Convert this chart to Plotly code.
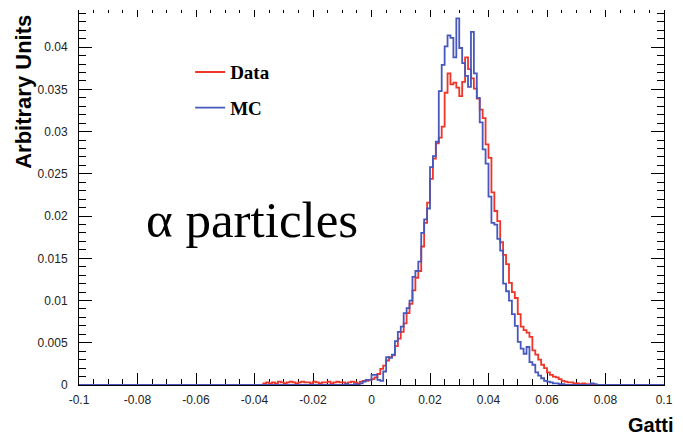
import numpy as np
import plotly.graph_objects as go

# Histogram binning (Gatti parameter)
axis_lo, axis_hi = -0.1, 0.1
bin_width = 0.001
read_lo = -0.040          # first bin with a read value
unit = 1e-3               # values below are in units of 1e-3

# Normalised bin contents from -0.040 to 0.080 (120 bins), units of 1e-3
data_vals = [
    0.0, 0.0, 0.0, 0.2, 0.3, 0.2, 0.3, 0.2, 0.4, 0.3,
    0.2, 0.3, 0.4, 0.3, 0.2, 0.3, 0.4, 0.3, 0.3, 0.2,
    0.4, 0.3, 0.2, 0.3, 0.3, 0.4, 0.2, 0.3, 0.4, 0.3,
    0.3, 0.2, 0.3, 0.4, 0.3, 0.2, 0.4, 0.5, 0.5, 0.6,
    0.7, 0.9, 1.3, 1.9, 2.3, 2.9, 3.3, 3.5, 4.6, 5.5,
    6.3, 7.3, 8.5, 9.6, 11.2, 12.7, 13.5, 16.4, 19.2, 21.6,
    24.4, 26.8, 28.6, 29.3, 30.6, 34.6, 36.9, 35.6, 35.8, 35.2,
    34.2, 35.9, 38.8, 37.4, 36.3, 35.1, 33.9, 32.6, 31.6, 28.5,
    26.9, 22.8, 20.6, 19.4, 16.9, 15.4, 14.3, 12.1, 11.0, 10.3,
    8.4, 6.9, 6.5, 6.2, 5.7, 4.1, 3.6, 3.0, 2.4, 2.0,
    1.5, 1.2, 1.0, 0.9, 0.7, 0.5, 0.4, 0.3, 0.3, 0.2,
    0.2, 0.1, 0.2, 0.1, 0.1, 0.1, 0.0, 0.0, 0.0, 0.0,
]
mc_vals = [
    0.0, 0.0, 0.0, 0.0, 0.0, 0.0, 0.0, 0.0, 0.0, 0.0,
    0.0, 0.0, 0.0, 0.0, 0.0, 0.0, 0.0, 0.0, 0.0, 0.0,
    0.0, 0.0, 0.0, 0.0, 0.0, 0.0, 0.0, 0.0, 0.0, 0.0,
    0.0, 0.1, 0.0, 0.0, 0.1, 0.0, 0.2, 0.4, 0.6, 0.6,
    1.2, 1.2, 0.6, 0.5, 1.6, 3.3, 3.2, 3.6, 5.2, 6.3,
    6.9, 8.5, 9.1, 10.0, 12.8, 13.5, 14.6, 18.0, 19.6, 20.9,
    25.8, 27.1, 28.8, 34.8, 37.9, 40.1, 41.4, 41.1, 38.8, 43.4,
    39.9, 38.1, 36.6, 35.3, 41.8, 36.9, 34.0, 31.1, 27.9, 26.2,
    22.3, 19.2, 19.0, 17.3, 15.9, 12.0, 11.1, 10.0, 8.4, 7.0,
    5.1, 4.3, 3.7, 4.5, 2.7, 2.4, 1.5, 1.1, 0.8, 0.5,
    0.4, 0.3, 0.2, 0.2, 0.1, 0.1, 0.0, 0.0, 0.0, 0.0,
    0.0, 0.0, 0.0, 0.0, 0.0, 0.2, 0.1, 0.0, 0.0, 0.0,
]

x_tick_vals = [-0.1, -0.08, -0.06, -0.04, -0.02, 0, 0.02, 0.04, 0.06, 0.08, 0.1]
x_tick_text = ["-0.1", "-0.08", "-0.06", "-0.04", "-0.02", "0", "0.02", "0.04", "0.06", "0.08", "0.1"]
y_tick_vals = [0, 0.005, 0.01, 0.015, 0.02, 0.025, 0.03, 0.035, 0.04]
y_tick_text = ["0", "0.005", "0.01", "0.015", "0.02", "0.025", "0.03", "0.035", "0.04"]

RED = "#f03428"
BLUE = "#4658bd"

n_bins = int(round((axis_hi - axis_lo) / bin_width))
edges = axis_lo + np.arange(n_bins + 1) * bin_width
pad_lo = int(round((read_lo - axis_lo) / bin_width))


def full_hist(vals):
    arr = np.zeros(n_bins)
    arr[pad_lo:pad_lo + len(vals)] = np.array(vals) * unit
    # repeat the last content so the final step reaches the upper edge
    return np.append(arr, arr[-1])


fig = go.Figure()
for name, vals, color in [("Data", data_vals, RED), ("MC", mc_vals, BLUE)]:
    fig.add_trace(go.Scatter(
        x=edges, y=full_hist(vals), mode="lines", name=name,
        line=dict(color=color, width=1.8, shape="hv"),
        legendgroup=name, hoverinfo="skip",
    ))

# empty trace to anchor the top tick axis
fig.add_trace(go.Scatter(x=[], y=[], xaxis="x2", showlegend=False, hoverinfo="skip"))

tick_font = dict(family="Liberation Sans", size=12, color="#222")

fig.update_layout(
    width=683, height=436,
    margin=dict(l=79, r=12, t=10, b=51),
    paper_bgcolor="white", plot_bgcolor="white",
    showlegend=True,
    legend=dict(
        x=0.19, y=0.885, xanchor="left", yanchor="top",
        bgcolor="rgba(0,0,0,0)", borderwidth=0,
        font=dict(family="Liberation Serif", size=19, color="black", weight="bold"),
        tracegroupgap=8,
    ),
    xaxis=dict(
        range=[axis_lo, axis_hi], tickmode="array",
        tickvals=x_tick_vals, ticktext=x_tick_text,
        ticks="inside", ticklen=12, tickwidth=1, tickcolor="black",
        showline=True, linecolor="black", linewidth=1,
        showgrid=False, zeroline=False, layer="below traces",
        tickfont=tick_font, ticklabelstandoff=4,
        minor=dict(dtick=0.005, tick0=-0.1, ticks="inside", ticklen=6,
                   tickcolor="black", showgrid=False),
    ),
    xaxis2=dict(
        overlaying="x", side="top", anchor="y",
        range=[axis_lo, axis_hi], tickmode="array", tickvals=x_tick_vals,
        showticklabels=False, ticks="inside", ticklen=7, tickcolor="black",
        showline=False, showgrid=False, zeroline=False,
        minor=dict(dtick=0.005, tick0=-0.1, ticks="inside", ticklen=3,
                   tickcolor="black", showgrid=False),
    ),
    yaxis=dict(
        range=[0, 0.0444], tickmode="array",
        tickvals=y_tick_vals, ticktext=y_tick_text,
        ticks="inside", ticklen=13, tickwidth=1, tickcolor="black",
        showline=True, linecolor="black", linewidth=1, mirror="ticks",
        showgrid=False, zeroline=False, layer="below traces",
        tickfont=tick_font, ticklabelstandoff=8,
        minor=dict(dtick=0.001, tick0=0, ticks="inside", ticklen=7,
                   tickcolor="black", showgrid=False),
    ),
    annotations=[
        dict(text="\u03b1 particles", xref="paper", yref="paper",
             x=0.2956, y=0.4387, xanchor="center", yanchor="middle",
             showarrow=False,
             font=dict(family="Liberation Serif", size=51, color="black")),
        dict(text="Arbitrary Units", xref="paper", yref="paper",
             x=-0.0963, y=0.781, xanchor="center", yanchor="middle",
             textangle=-90, showarrow=False,
             font=dict(family="Liberation Sans", size=22, color="black", weight="bold")),
        dict(text="Gatti", xref="paper", yref="paper",
             x=1.02, y=-0.1067, xanchor="right", yanchor="middle",
             showarrow=False,
             font=dict(family="Liberation Sans", size=20, color="black", weight="bold")),
    ],
)

fig.write_html("out.html")
